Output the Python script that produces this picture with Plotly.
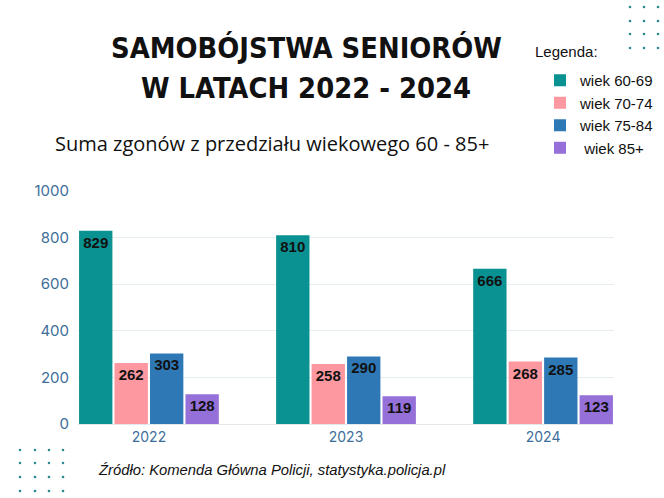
import plotly.graph_objects as go

years = ["2022", "2023", "2024"]
series_names = ["wiek 60-69", "wiek 70-74", "wiek 75-84", " wiek 85+"]
values_60_69 = [829, 810, 666]
values_70_74 = [262, 258, 268]
values_75_84 = [303, 290, 285]
values_85 = [128, 119, 123]
colors = ["#0a9191", "#fd97a0", "#2e78b6", "#9570d8"]
y_ticks = [0, 200, 400, 600, 800, 1000]

all_values = [values_60_69, values_70_74, values_75_84, values_85]

fig = go.Figure()
for name, vals, col in zip(series_names, all_values, colors):
    fig.add_trace(go.Bar(
        x=years, y=vals, name=name, marker_color=col, marker_line_width=0,
        text=[str(v) for v in vals], textposition="inside", insidetextanchor="end",
        textfont=dict(family="Liberation Sans, Arial", size=15, color="#111111", weight="bold"),
        constraintext="none",
    ))

W, H = 664, 498
L, R, T, B = 78, 50, 191, 74
PW, PH = W - L - R, H - T - B

def px(x):
    return (x - L) / PW

def py(y):
    return (H - B - y) / PH

shapes = []
# decorative dots
for cx in [630, 644, 658]:
    for cy in [7, 21, 34, 48]:
        shapes.append(dict(type="circle", xref="paper", yref="paper",
                           x0=px(cx - 1.3), x1=px(cx + 1.3), y0=py(cy + 1.3), y1=py(cy - 1.3),
                           fillcolor="#2a8a90", line_width=0, layer="above"))
for cx in [20, 35, 49, 63]:
    for cy in [450, 463, 477, 491]:
        shapes.append(dict(type="circle", xref="paper", yref="paper",
                           x0=px(cx - 1.3), x1=px(cx + 1.3), y0=py(cy + 1.3), y1=py(cy - 1.3),
                           fillcolor="#2a8a90", line_width=0, layer="above"))

title_font = dict(family="DejaVu Sans Condensed", size=28.8,
                  color="#111111", weight="bold")
annotations = [
    dict(text="SAMOBÓJSTWA SENIORÓW", x=px(306), y=py(47.5), xref="paper", yref="paper",
         xanchor="center", yanchor="middle", showarrow=False, font=title_font),
    dict(text="W LATACH 2022 - 2024", x=px(306), y=py(88), xref="paper", yref="paper",
         xanchor="center", yanchor="middle", showarrow=False, font=title_font),
    dict(text="Suma zgonów z przedziału wiekowego 60 - 85+", x=px(53), y=py(143), xref="paper",
         yref="paper", xanchor="left", yanchor="middle", showarrow=False,
         font=dict(family="Open Sans", size=20, color="#111111")),
    dict(text="Legenda:", x=px(533), y=py(52), xref="paper", yref="paper",
         xanchor="left", yanchor="middle", showarrow=False,
         font=dict(family="Liberation Sans, Arial", size=15, color="#111111")),
    dict(text="<i>Źródło: Komenda Główna Policji, statystyka.policja.pl</i>", x=px(96), y=py(470),
         xref="paper", yref="paper", xanchor="left", yanchor="middle", showarrow=False,
         font=dict(family="Liberation Sans, Arial", size=14.8, color="#111111")),
]

fig.update_layout(
    width=W, height=H,
    margin=dict(l=L, r=R, t=T, b=B, autoexpand=False),
    paper_bgcolor="white", plot_bgcolor="white",
    barmode="group", bargap=0.28, bargroupgap=0.06,
    showlegend=True,
    legend=dict(x=px(540), y=py(64), xref="paper", yref="paper", xanchor="left", yanchor="top",
                font=dict(family="Liberation Sans, Arial", size=15, color="#111111"),
                bgcolor="rgba(0,0,0,0)", tracegroupgap=2),
    xaxis=dict(range=[-0.36, 2.36], showgrid=False, showline=True, linecolor="#e3e8ec",
               tickfont=dict(family="Inter", size=14, color="#3d6e99"), ticks=""),
    yaxis=dict(range=[0, 1000], tickvals=y_ticks, showgrid=True, gridcolor="#e6eef2",
               zeroline=False, showline=False, ticks="", ticklabelstandoff=8,
               tickfont=dict(family="Inter", size=15, color="#3d6e99")),
    shapes=shapes,
    annotations=annotations,
    uniformtext=dict(mode=False),
)

fig.write_html("out.html")
